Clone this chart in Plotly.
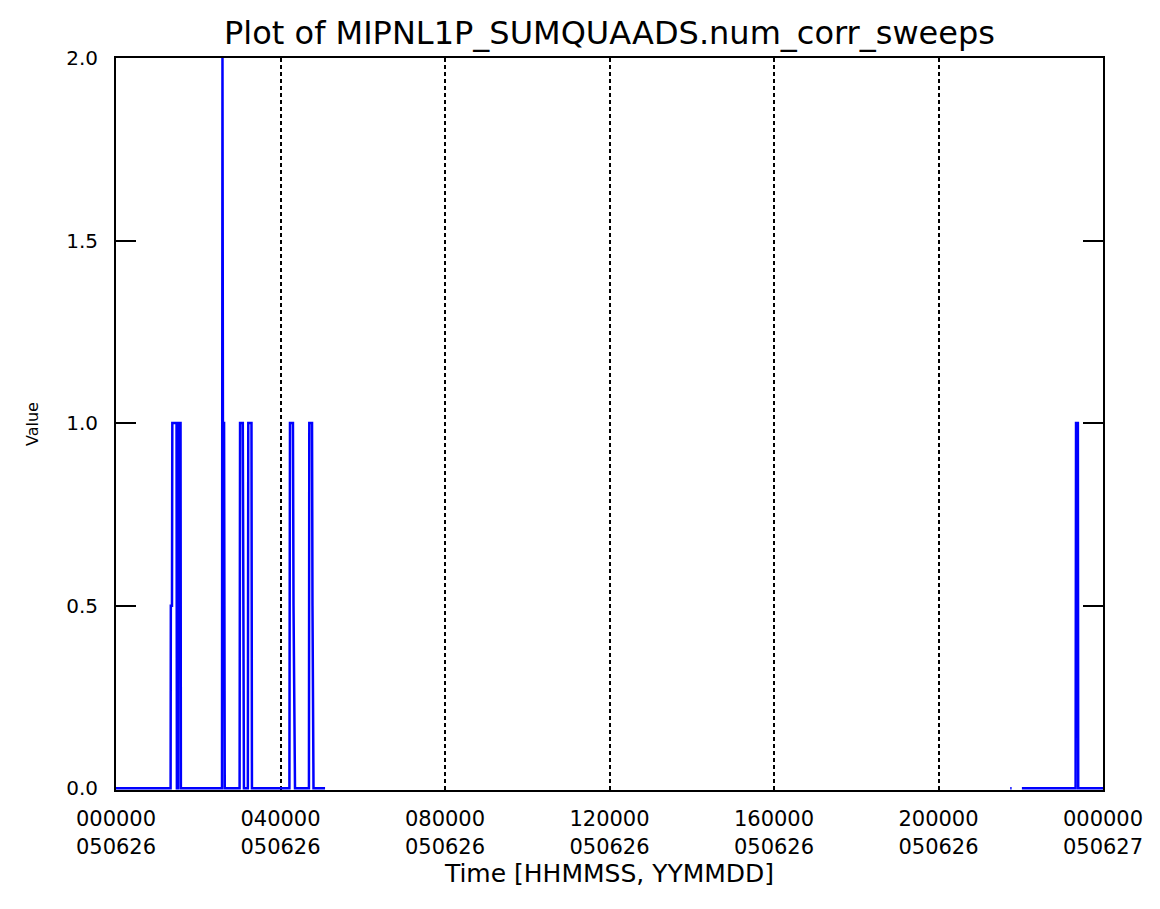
import plotly.graph_objects as go

# ---- data (time in seconds since 000000 on 050626, value) ----
t_sec = [0, 4780, 4800, 4900, 4930, 5300, 5330, 5440, 5470, 5650, 5680,
         9280, 9320, 9360, 9460, 9520,
         10820, 10860, 11100, 11140, 11200, 11540, 11580, 11860, 11900,
         15180, 15230, 15490, 15540, 15670,
         16890, 16920, 17160, 17200, 17290,
         18300, None,
         78280, 78400, None,
         79300, 84000, 84040, 84200, 84230, 86400]
values = [0, 0, 0.5, 0.5, 1, 1, 0, 0, 1, 1, 0,
          0, 2, 1, 1, 0,
          0, 1, 1, 0.5, 0, 0, 1, 1, 0,
          0, 1, 1, 0.5, 0,
          0, 1, 1, 0.5, 0,
          0, None,
          0, 0, None,
          0, 0, 1, 1, 0, 0]

x_tick_vals = [0, 14400, 28800, 43200, 57600, 72000, 86400]
x_tick_time = ["000000", "040000", "080000", "120000", "160000", "200000", "000000"]
x_tick_date = ["050626", "050626", "050626", "050626", "050626", "050626", "050627"]
y_tick_vals = [0, 0.5, 1.0, 1.5, 2.0]
y_tick_text = ["0.0", "0.5", "1.0", "1.5", "2.0"]

title_text = "Plot of MIPNL1P_SUMQUAADS.num_corr_sweeps"
x_title = "Time [HHMMSS, YYMMDD]"
y_title = "Value"

FONT = "DejaVu Sans"
W, H = 1152, 901  # page body adds an 8px offset

fig = go.Figure()
fig.add_trace(go.Scatter(
    x=t_sec, y=values, mode="lines",
    line=dict(color="#0000FF", width=2.5),
    connectgaps=False, showlegend=False, hoverinfo="skip",
))

fig.update_layout(
    width=W, height=H,
    paper_bgcolor="white", plot_bgcolor="white",
    margin=dict(l=108, r=57, t=50, b=119, pad=0),
    font=dict(family=FONT, color="black"),
    title=dict(text=title_text, font=dict(family=FONT, size=32, color="black"),
               x=0.5, xref="paper", xanchor="center",
               y=1 - 25 / H, yref="container", yanchor="middle"),
    showlegend=False,
)

fig.update_xaxes(
    range=[0, 86400],
    tickmode="array", tickvals=x_tick_vals,
    ticktext=[f"{a}<br>{b}" for a, b in zip(x_tick_time, x_tick_date)],
    tickfont=dict(family=FONT, size=21, color="black"),
    ticks="", ticklabelstandoff=9,
    showline=True, linecolor="black", linewidth=2, mirror=True,
    showgrid=True, gridcolor="black", gridwidth=2, griddash="4px,3px",
    zeroline=False, layer="below traces",
    title=dict(text=x_title, font=dict(family=FONT, size=25, color="black"), standoff=2),
)
fig.update_yaxes(
    range=[-0.005, 2.0],
    tickmode="array", tickvals=y_tick_vals, ticktext=y_tick_text,
    tickfont=dict(family=FONT, size=20, color="black"),
    ticks="inside", ticklen=20, tickwidth=2, tickcolor="black",
    ticklabelstandoff=12,
    showline=True, linecolor="black", linewidth=2, mirror="ticks",
    showgrid=False, zeroline=False, layer="below traces",
    title=dict(text=y_title, font=dict(family=FONT, size=16, color="black"), standoff=24),
)

fig.write_html("out.html")
